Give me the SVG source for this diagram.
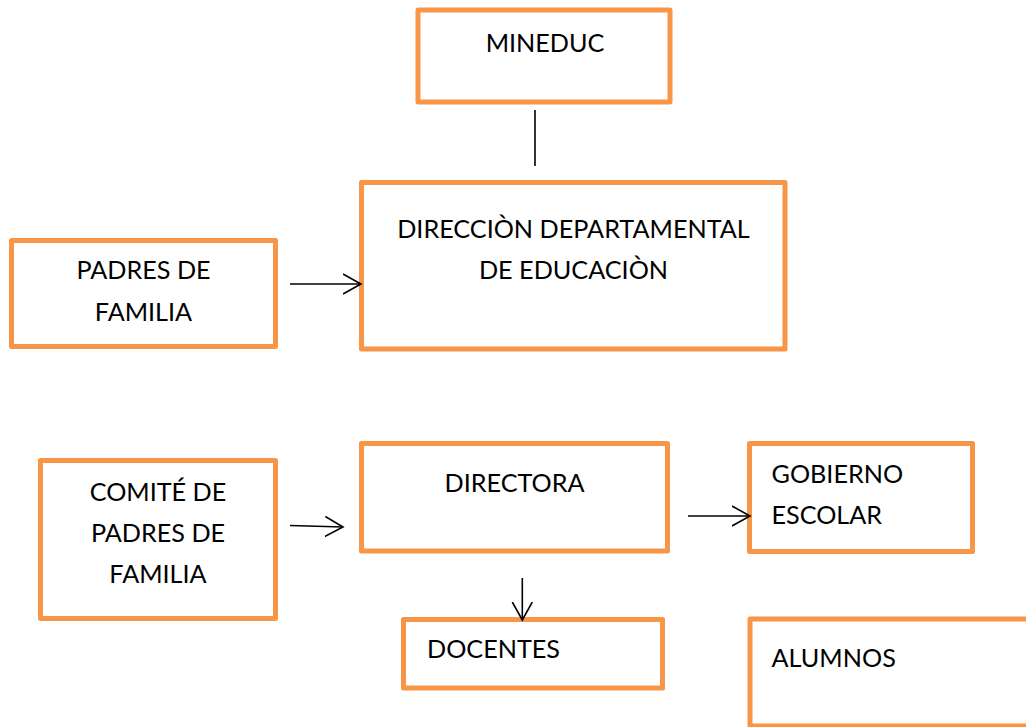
<svg xmlns="http://www.w3.org/2000/svg" width="1026" height="727" viewBox="0 0 1026 727">
<style>
.box{fill:#fff;stroke:#F79646;stroke-width:5;stroke-linejoin:round}
.t{font-family:Lato,"Open Sans","Liberation Sans",sans-serif;font-size:25.2px;fill:#000}
.c{text-anchor:middle}
.ln{fill:none;stroke:#000;stroke-width:1.6}
</style>
<defs>
<marker id="ah" markerWidth="20" markerHeight="24" refX="18" refY="12" orient="auto" markerUnits="userSpaceOnUse">
<path d="M0,2 L18,12 L0,22" fill="none" stroke="#000" stroke-width="1.6"/>
</marker>
</defs>
<rect width="1026" height="727" fill="#fff"/>
<g id="mineduc">
<rect class="box" x="418" y="10" width="252" height="92"/>
<text class="t c" x="545" y="52">MINEDUC</text>
</g>
<g id="direccion">
<rect class="box" x="361.5" y="182.5" width="423.5" height="166.5"/>
<text class="t c" x="573.5" y="238">DIRECCIÒN DEPARTAMENTAL</text>
<text class="t c" x="573.5" y="279">DE EDUCACIÒN</text>
</g>
<g id="padres">
<rect class="box" x="11.5" y="240.5" width="264" height="106"/>
<text class="t c" x="143.5" y="279">PADRES DE</text>
<text class="t c" x="143.5" y="321">FAMILIA</text>
</g>
<g id="comite">
<rect class="box" x="40.5" y="460.5" width="235" height="158"/>
<text class="t c" x="158" y="501">COMITÉ DE</text>
<text class="t c" x="158" y="542">PADRES DE</text>
<text class="t c" x="158" y="583">FAMILIA</text>
</g>
<g id="directora">
<rect class="box" x="361.5" y="443.5" width="306" height="107.5"/>
<text class="t c" x="514.5" y="492">DIRECTORA</text>
</g>
<g id="gobierno">
<rect class="box" x="749.5" y="443.5" width="223" height="108"/>
<text class="t" x="771.5" y="483">GOBIERNO</text>
<text class="t" x="771.5" y="524">ESCOLAR</text>
</g>
<g id="docentes">
<rect class="box" x="403.5" y="619.5" width="259" height="68.5"/>
<text class="t" x="427" y="658">DOCENTES</text>
</g>
<g id="alumnos">
<rect class="box" x="750" y="619" width="290" height="107"/>
<text class="t" x="771.5" y="667">ALUMNOS</text>
</g>
<g id="connectors">
<line class="ln" x1="535" y1="110" x2="535" y2="166"/>
<line class="ln" x1="290" y1="284" x2="361" y2="284" marker-end="url(#ah)"/>
<line class="ln" x1="290" y1="525.5" x2="343" y2="527" marker-end="url(#ah)"/>
<line class="ln" x1="522.3" y1="578" x2="522.3" y2="620" marker-end="url(#ah)"/>
<line class="ln" x1="688" y1="516" x2="750" y2="516" marker-end="url(#ah)"/>
</g>
</svg>
